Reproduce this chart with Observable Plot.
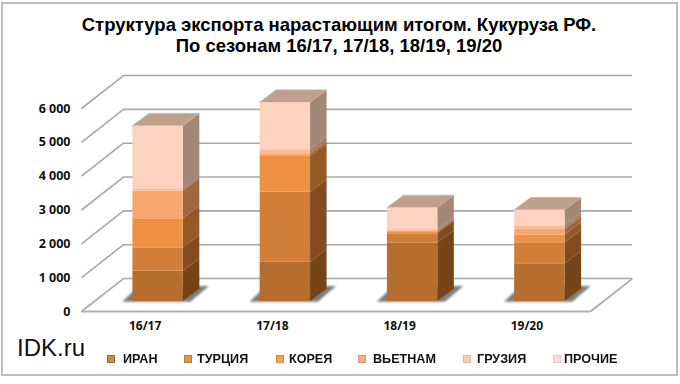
<!DOCTYPE html>
<html><head><meta charset="utf-8">
<script src="https://cdn.jsdelivr.net/npm/d3@7"></script>
<script src="https://cdn.jsdelivr.net/npm/@observablehq/plot@0.6"></script>
<style>
html,body{margin:0;padding:0;background:#fff}
#wrap{position:relative;width:680px;height:384px;overflow:hidden;font-family:"Liberation Sans",Arial,sans-serif}
#title{position:absolute;left:0;top:15px;width:678px;text-align:center;font-size:18.5px;font-weight:bold;line-height:20.7px;color:#000}
#brand{position:absolute;left:17px;top:334px;font-size:24px;color:#111}
.lg{position:absolute;top:351px;font-size:13.25px;font-weight:bold;color:#111;transform:scaleX(.95);transform-origin:left}
.sw{position:absolute;top:355px;width:8px;height:8px;box-sizing:border-box}
</style></head><body>
<div id="wrap"><div id="chart"></div>
<div id="title">Структура экспорта нарастающим итогом. Кукуруза РФ.<br>По сезонам 16/17, 17/18, 18/19, 19/20</div>
<div id="brand">IDK.ru</div>
</div>
<script>
const seasons = ["16/17","17/18","18/19","19/20"];
const seriesNames = ["ИРАН","ТУРЦИЯ","КОРЕЯ","ВЬЕТНАМ","ГРУЗИЯ","ПРОЧИЕ"];
const iran    = [895,1160,1725,1115];
const turkey  = [690,2070,275,620];
const korea   = [860,1055,40,225];
const vietnam = [815,80,30,170];
const georgia = [70,120,50,100];
const others  = [1850,1390,640,465];
const series = [iran,turkey,korea,vietnam,georgia,others];
const yTicks = [0,1000,2000,3000,4000,5000,6000];

const frontColors = ["#B56E2E","#D07E38","#EE9144","#F8A66E","#FBBB95","#FDD2BE"];
const sideColors  = ["#754519","#814C1F","#945A26","#9D6742","#A97960","#A58778"];
const swatchEdge  = ["#9C6A42","#B47C4A","#CF9259","#C99A78","#DDB8A2","#E0CCC4"];
const swatchFill  = ["#D08A3E","#E4963F","#F4A04C","#F6B07A","#F7C9AE","#F4E0D8"];
const topColor = "#BFA08C";
const gridColor = "#A8A8A8";

// projection of the 3D box, in data units
const wallX = 0.33, wallY = 975;
const barOffX = 0.102, barOffY = 296, halfW = 0.198, depthX = 0.13, depthY = 364;

const front = [], side = [], tops = [], shadow = [];
seasons.forEach((s,i) => {
  const xl = i + 0.5 + barOffX - halfW, xr = i + 0.5 + barOffX + halfW;
  let c = barOffY;
  series.forEach((arr,k) => {
    const a = c, b = c + arr[i];
    front.push({x1:xl,x2:xr,y1:a,y2:b,fill:frontColors[k]});
    side.push({id:i+"-"+k,x:xr,y1:a,y2:b,fill:sideColors[k]});
    side.push({id:i+"-"+k,x:xr+depthX,y1:a+depthY,y2:b+depthY,fill:sideColors[k]});
    c = b;
  });
  tops.push({id:i,y:c,x1:xl,x2:xr},{id:i,y:c+depthY,x1:xl+depthX,x2:xr+depthX});
  shadow.push({id:i,y:barOffY-25,x1:xl-0.08,x2:xr+0.06},{id:i,y:barOffY+440,x1:xl+0.05,x2:xr+0.205});
});

const plot = Plot.plot({
  width:680,height:384,
  marginLeft:81,marginRight:90,marginTop:108,marginBottom:73,
  x:{domain:[0,4],axis:null},
  y:{domain:[0,6000],axis:null},
  style:{background:"transparent"},
  marks:[
    Plot.ruleY(yTicks,{y:d=>d+wallY,x1:wallX,x2:4+wallX,stroke:gridColor,strokeWidth:1.6}),
    Plot.link(yTicks,{x1:0,x2:wallX,y1:d=>d,y2:d=>d+wallY,stroke:gridColor,strokeWidth:1.6}),
    Plot.link([0],{x1:4,x2:4+wallX,y1:0,y2:wallY,stroke:gridColor,strokeWidth:1.6}),
    Plot.ruleY([0],{x1:0,x2:4,stroke:"#B0B0B0",strokeWidth:2.2}),
    Plot.areaX(shadow,{z:"id",y:"y",x1:"x1",x2:"x2",fill:"#5c5c5c",fillOpacity:.8,imageFilter:"blur(1.2px)"}),
    Plot.areaY(side,{z:"id",x:"x",y1:"y1",y2:"y2",fill:"fill",imageFilter:"blur(.35px)"}),
    Plot.areaX(tops,{z:"id",y:"y",x1:"x1",x2:"x2",fill:topColor,stroke:"#CFAE9A",strokeWidth:.8,imageFilter:"blur(.35px)"}),
    Plot.rect(front,{x1:"x1",x2:"x2",y1:"y1",y2:"y2",fill:"fill",imageFilter:"blur(.35px)"}),
    Plot.axisY(yTicks,{anchor:"left",tickSize:0,tickPadding:11,fontSize:12.5,fontWeight:"bold",fill:"#111",
      tickFormat:d=>d3.format(",")(d).replace(/,/g," "),label:null}),
    Plot.axisX([0.5,1.5,2.5,3.5],{anchor:"bottom",tickSize:0,tickPadding:10,fontSize:12,fontWeight:"bold",fill:"#111",
      tickFormat:d=>seasons[Math.floor(d)],label:null})
  ]
});
document.getElementById("chart").append(plot);

const wrap = document.getElementById("wrap");
const lgSw = [107,184,276,358,463,553], lgTx = [123,197,289,373,477,564];
seriesNames.forEach((n,i)=>{
  const s=document.createElement("div");s.className="sw";s.style.left=lgSw[i]+"px";
  s.style.background=swatchFill[i];s.style.border="1.5px solid "+swatchEdge[i];wrap.append(s);
  const t=document.createElement("div");t.className="lg";t.style.left=lgTx[i]+"px";t.textContent=n;wrap.append(t);
});
const b=document.createElement("div");
b.style.cssText="position:absolute;left:1px;top:2px;width:673px;height:370px;border:2px solid #BDBDBD;pointer-events:none";
wrap.append(b);
</script>
</body></html>
